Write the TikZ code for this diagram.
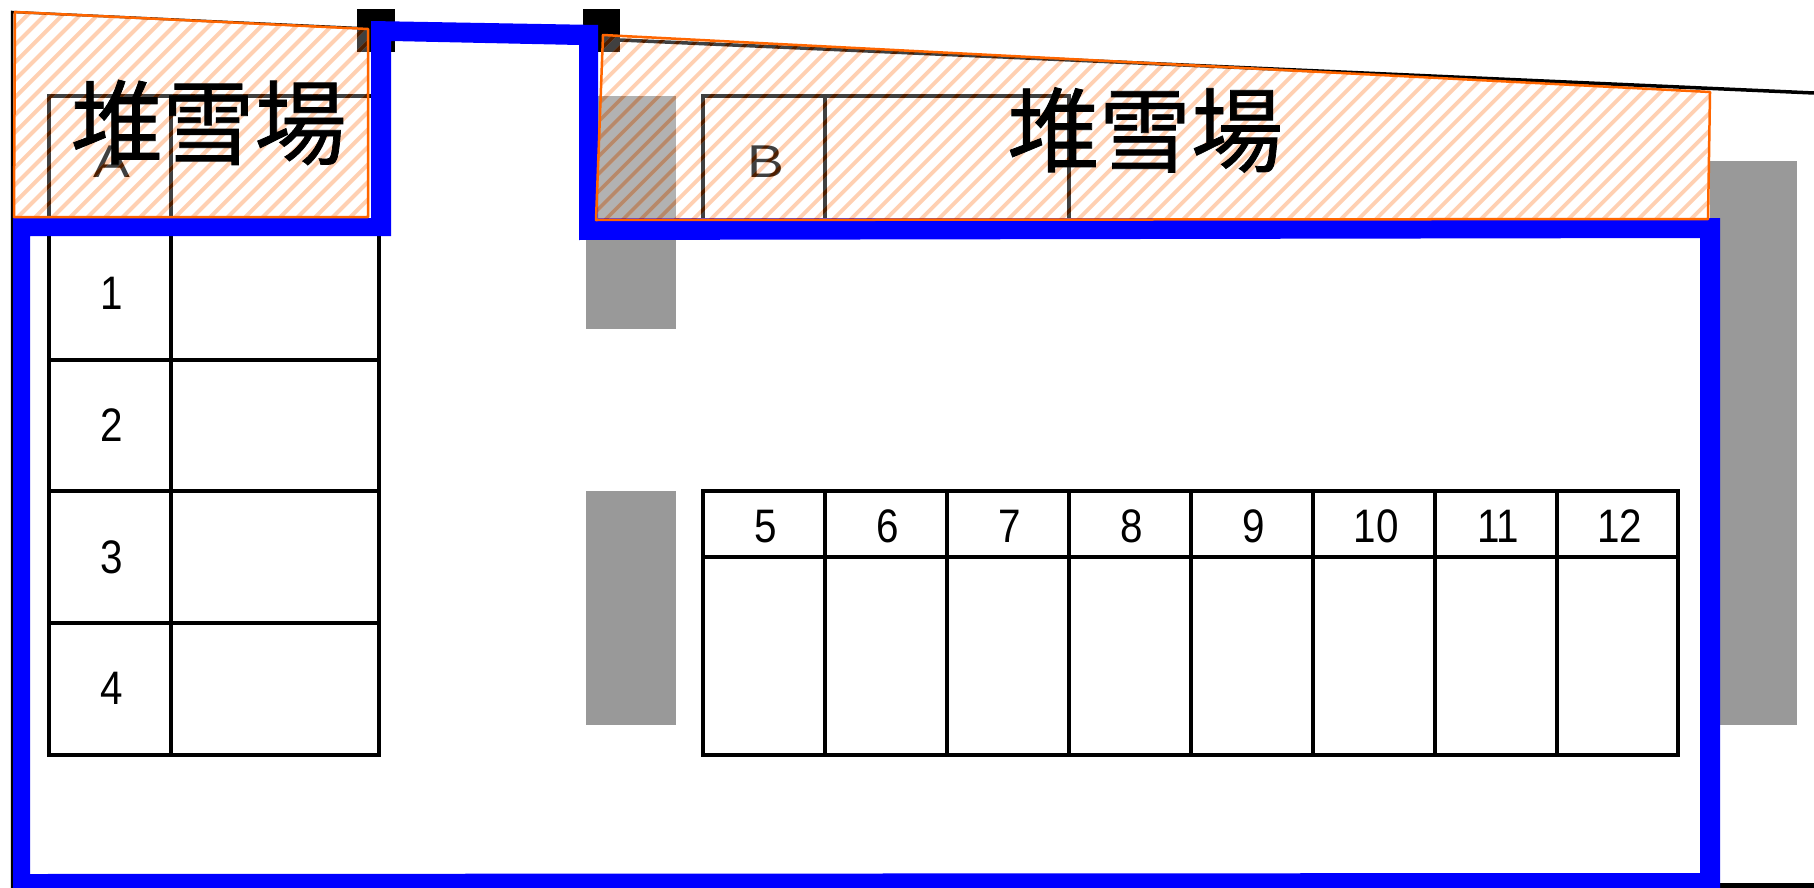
\documentclass[tikz,border=0pt]{standalone}
\usepackage{fontspec}
\setmainfont{Liberation Sans}
\newfontfamily\narrowfont[FakeStretch=0.86]{Liberation Sans}
\newfontfamily\widefont[FakeStretch=1.2]{Liberation Sans}
\newfontfamily\cjkfont[FakeBold=0.8]{Noto Sans CJK JP}
\definecolor{wallblue}{RGB}{0,0,255}
\definecolor{edgeorange}{RGB}{255,102,0}
\definecolor{pavegray}{RGB}{153,153,153}
\tikzstyle{pave}=[fill=pavegray,draw=none]
\tikzstyle{post}=[fill=black,draw=none]
\tikzstyle{boundary}=[draw,line width=2.5pt]
\tikzstyle{wall}=[fill=wallblue,draw=none,even odd rule]
\tikzstyle{stall}=[rectangle,draw,line width=4pt,inner sep=0pt,execute at begin node={\hspace*{4pt}},font=\narrowfont\fontsize{47}{47}\selectfont]
\tikzstyle{sidestall}=[stall,minimum width=122pt,minimum height=131.7pt]
\tikzstyle{widestall}=[stall,minimum width=208pt,minimum height=131.7pt]
\tikzstyle{headstall}=[stall,minimum width=121.9pt,minimum height=66pt,text height=37pt,text depth=0pt]
\tikzstyle{footstall}=[stall,minimum width=121.9pt,minimum height=198pt]
\tikzstyle{letter}=[font=\widefont\fontsize{46}{46}\selectfont,text=black]
\tikzstyle{snowlabel}=[font=\cjkfont\fontsize{92}{92}\selectfont,inner sep=0pt]
\tikzstyle{snowedge}=[draw=edgeorange,line width=2.5pt,line join=round]
\tikzstyle{stripe}=[draw=edgeorange,line width=3.9pt,opacity=0.3]
\tikzstyle{gap}=[draw=white,line width=8.5pt,opacity=0.25]

\begin{document}
\begin{tikzpicture}[x=1pt,y=-1pt]
  \useasboundingbox[fill=white] (0,0) rectangle (1814,888);

  % gray strips
  \path[pave] (586,96) rectangle (676,328.5);
  \path[pave] (586,491) rectangle (676,725);
  \path[pave] (1710,161) rectangle (1797,725);

  % posts
  \path[post] (357,9) rectangle (395,52);
  \path[post] (583,9) rectangle (620,52);

  % site boundary
  \coordinate (bl0) at (12,888);
  \coordinate (bl1) at (12,12);
  \coordinate (bl2) at (357,28);
  \coordinate (br0) at (620,40);
  \coordinate (br1) at (1814,93);
  \coordinate (br2) at (1720,885.5);
  \coordinate (br3) at (1814,885.5);
  \path[boundary] (bl0) -- (bl1) -- (bl2);
  \path[boundary,line width=3.5pt] (br0) -- (br1);
  \path[draw,line width=5pt] (br2) -- (br3);

  % left block
  \node[sidestall,letter] (a) at (110,162) {A};
  \node[sidestall] (s1) at (110,293.7) {1};
  \node[sidestall] (s2) at (110,425.4) {2};
  \node[sidestall] (s3) at (110,557.1) {3};
  \node[sidestall] (s4) at (110,688.8) {4};
  \node[widestall] (aw) at (275,162) {};
  \node[widestall] (s1w) at (275,293.7) {};
  \node[widestall] (s2w) at (275,425.4) {};
  \node[widestall] (s3w) at (275,557.1) {};
  \node[widestall] (s4w) at (275,688.8) {};

  % upper right block
  \node[sidestall,letter] (b) at (764,162) {B};
  \node[stall,minimum width=244pt,minimum height=131.7pt] (bw) at (947,162) {};

  % lower right block
  \node[headstall] (s5) at (764,524) {5};
  \node[headstall] (s6) at (886,524) {6};
  \node[headstall] (s7) at (1008,524) {7};
  \node[headstall] (s8) at (1130,524) {8};
  \node[headstall] (s9) at (1252,524) {9};
  \node[headstall] (s10) at (1374,524) {10};
  \node[headstall] (s11) at (1496,524) {11};
  \node[headstall] (s12) at (1617.5,524) {12};
  \node[footstall] (f5) at (764,656) {};
  \node[footstall] (f6) at (886,656) {};
  \node[footstall] (f7) at (1008,656) {};
  \node[footstall] (f8) at (1130,656) {};
  \node[footstall] (f9) at (1252,656) {};
  \node[footstall] (f10) at (1374,656) {};
  \node[footstall] (f11) at (1496,656) {};
  \node[footstall] (f12) at (1617.5,656) {};

  % blue fence
  \path[wall] (13,218) -- (371,218) -- (371,21) -- (598,25) -- (598,218) -- (1720,218)
    -- (1720,888) -- (13,888) -- cycle
    (30,236) -- (391,236) -- (391,41) -- (579,45) -- (579,240) -- (1700,238)
    -- (1700,873) -- (30,874) -- cycle;

  % snow areas
  \begin{scope}
    \clip (15,12) -- (368,29) -- (368,217) -- (14,217) -- cycle;
    \foreach \i in {-240,-222.5,...,400} {
      \path[stripe] (\i,230) -- ++(240,-240);
      \path[gap] (\i+8.75,230) -- ++(240,-240);
    }
  \end{scope}
  \begin{scope}
    \clip (603,35) -- (1710,92) -- (1708,219) -- (596,220) -- cycle;
    \foreach \i in {350,367.5,...,1750} {
      \path[stripe] (\i,230) -- ++(240,-240);
      \path[gap] (\i+8.75,230) -- ++(240,-240);
    }
  \end{scope}
  \path[snowedge] (15,12) -- (368,29) -- (368,217) -- (14,217) -- cycle;
  \path[snowedge] (603,35) -- (1710,92) -- (1708,219) -- (596,220) -- cycle;

  \node[snowlabel] (snowl) at (208.5,122.5) {堆雪場};
  \node[snowlabel] (snowr) at (1145,130) {堆雪場};
\end{tikzpicture}
\end{document}
